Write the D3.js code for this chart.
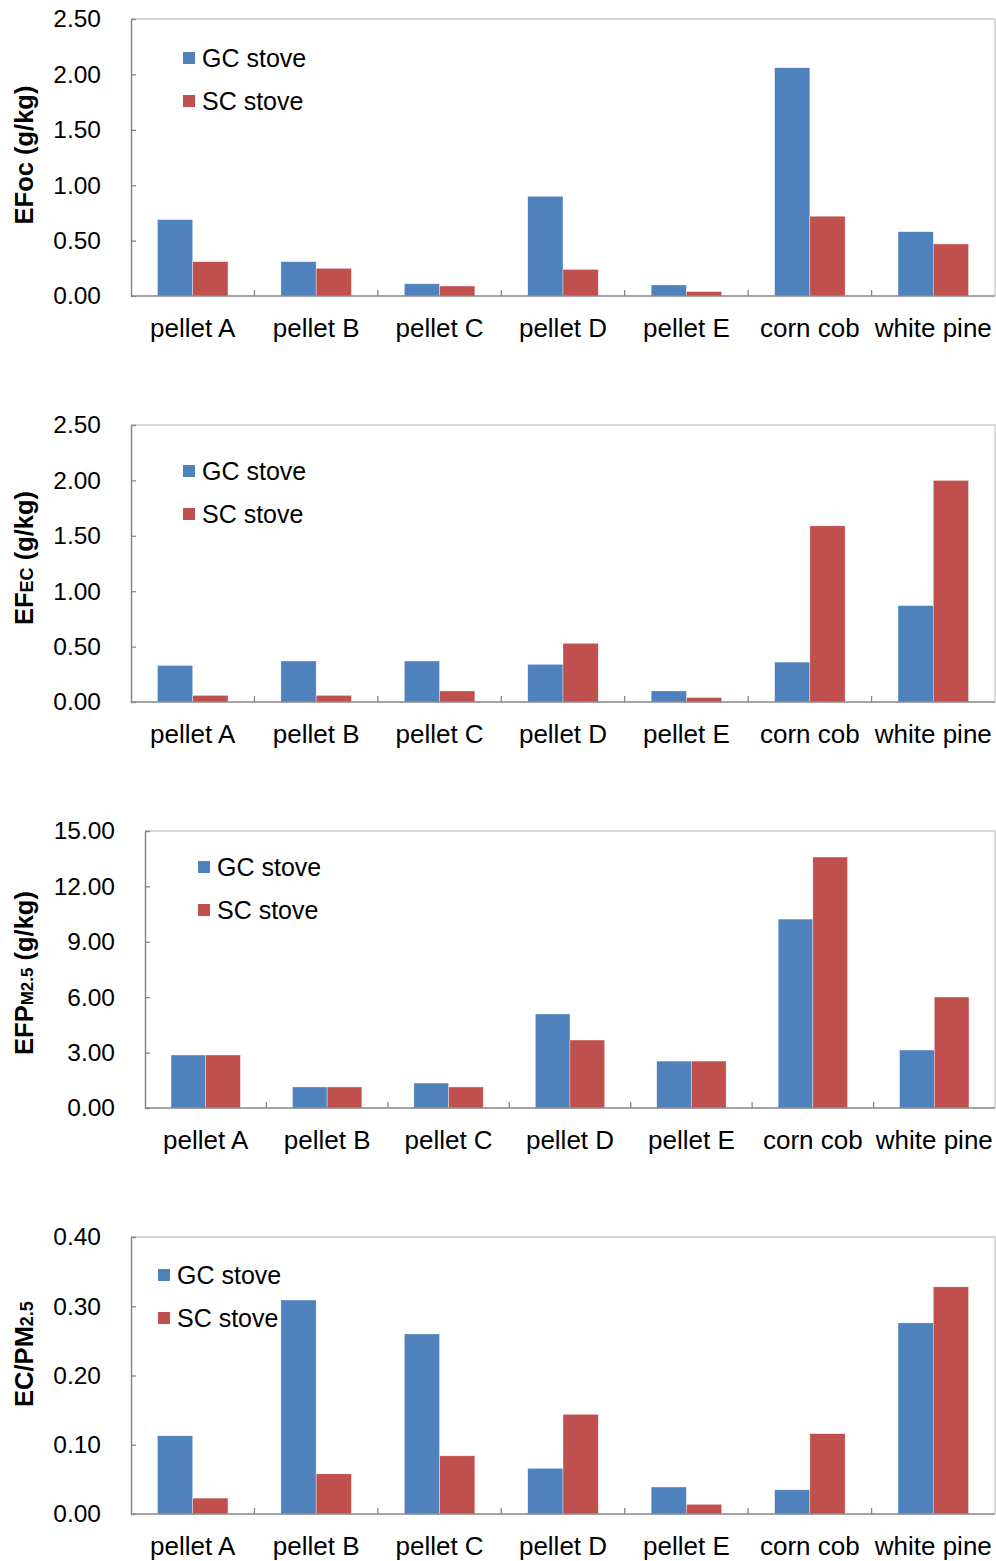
<!DOCTYPE html>
<html>
<head>
<meta charset="utf-8">
<script src="https://cdn.jsdelivr.net/npm/d3@7"></script>
<style>
  body { margin: 0; background: #fff; }
  svg text { font-family: "Liberation Sans", Arial, sans-serif; fill: #000; }
</style>
</head>
<body>
<div id="chart"></div>
<script>
// categories and values
const categories = ['pellet A', 'pellet B', 'pellet C', 'pellet D', 'pellet E', 'corn cob', 'white pine'];
const seriesNames = ['GC stove', 'SC stove'];

const ocGC = [0.69, 0.31, 0.11, 0.90, 0.10, 2.06, 0.58];
const ocSC = [0.31, 0.25, 0.09, 0.24, 0.04, 0.72, 0.47];

const ecGC = [0.33, 0.37, 0.37, 0.34, 0.10, 0.36, 0.87];
const ecSC = [0.06, 0.06, 0.10, 0.53, 0.04, 1.59, 2.00];

const pmGC = [2.87, 1.14, 1.35, 5.09, 2.54, 10.23, 3.14];
const pmSC = [2.87, 1.14, 1.14, 3.68, 2.54, 13.59, 6.01];

const ratioGC = [0.113, 0.309, 0.260, 0.066, 0.039, 0.035, 0.276];
const ratioSC = [0.023, 0.058, 0.084, 0.144, 0.014, 0.116, 0.328];

const ticksEF = [0, 0.5, 1, 1.5, 2, 2.5];
const ticksPM = [0, 3, 6, 9, 12, 15];
const ticksRatio = [0, 0.1, 0.2, 0.3, 0.4];

const colors = ['#4f81bd', '#c0504d'];

// panel layout
const panels = [
  { gc: ocGC, sc: ocSC, ticks: ticksEF, max: 2.5, left: 131, top: 19, bottom: 296, legX: 52, legY: 58, titleY: 155,
    title: [['EFoc (g/kg)', 25.5]] },
  { gc: ecGC, sc: ecSC, ticks: ticksEF, max: 2.5, left: 131, top: 425, bottom: 702, legX: 52, legY: 471, titleY: 558,
    title: [['EF', 25.5], ['EC', 18], [' (g/kg)', 25.5]] },
  { gc: pmGC, sc: pmSC, ticks: ticksPM, max: 15, left: 145, top: 831, bottom: 1108, legX: 53, legY: 867, titleY: 973,
    title: [['EFP', 25.5], ['M2.5', 17], [' (g/kg)', 25.5]] },
  { gc: ratioGC, sc: ratioSC, ticks: ticksRatio, max: 0.4, left: 131, top: 1237, bottom: 1514, legX: 27, legY: 1275, titleY: 1354,
    title: [['EC/PM', 25.5], ['2.5', 18]] }
];

const width = 996, height = 1561, right = 995;
const axisColor = '#868686';
const borderColor = '#c8c8c8';

const svg = d3.select('#chart').append('svg')
  .attr('width', width)
  .attr('height', height);

panels.forEach(p => {
  const g = svg.append('g');

  const x = d3.scaleBand().domain(categories).range([p.left, right]);
  const groupW = x.bandwidth() * 2 / 3.5;
  const xs = d3.scaleBand().domain(seriesNames).range([0, groupW]);
  const y = d3.scaleLinear().domain([0, p.max]).range([p.bottom, p.top]);

  // light frame top/right
  g.append('path')
    .attr('d', `M${p.left},${y(p.max)}H${right}V${y(0)}`)
    .attr('fill', 'none')
    .attr('stroke', borderColor)
    .attr('stroke-width', 1.3);

  // bars
  const rows = categories.map((c, i) => ({ cat: c, vals: [p.gc[i], p.sc[i]] }));
  const grp = g.append('g').selectAll('g')
    .data(rows)
    .enter().append('g')
    .attr('transform', d => `translate(${x(d.cat) + (x.bandwidth() - groupW) / 2},0)`);
  grp.selectAll('rect')
    .data(d => d.vals.map((v, k) => ({ name: seriesNames[k], v, k })))
    .enter().append('rect')
    .attr('x', d => xs(d.name))
    .attr('width', xs.bandwidth())
    .attr('y', d => y(d.v))
    .attr('height', d => y(0) - y(d.v))
    .attr('fill', d => colors[d.k])
    .attr('stroke', 'rgba(255,255,255,0.6)')
    .attr('stroke-width', 0.6);

  // y axis
  const yAxis = d3.axisLeft(y)
    .tickValues(p.ticks)
    .tickFormat(d3.format('.2f'))
    .tickSizeInner(-5)
    .tickSizeOuter(0)
    .tickPadding(30);
  const ya = g.append('g')
    .attr('transform', `translate(${p.left},0)`)
    .call(yAxis);
  ya.select('.domain').attr('stroke', axisColor).attr('stroke-width', 1.5);
  ya.selectAll('.tick line').attr('stroke', axisColor).attr('stroke-width', 1.3);
  ya.selectAll('.tick text')
    .attr('font-size', 24.5)
    .attr('font-family', '"Liberation Sans", Arial, sans-serif')
    .attr('fill', '#000');

  // x axis
  g.append('line')
    .attr('x1', p.left).attr('x2', right)
    .attr('y1', y(0)).attr('y2', y(0))
    .attr('stroke', axisColor).attr('stroke-width', 1.5);
  g.append('g').selectAll('line')
    .data(categories.slice(1))
    .enter().append('line')
    .attr('x1', d => x(d)).attr('x2', d => x(d))
    .attr('y1', y(0)).attr('y2', y(0) - 6)
    .attr('stroke', axisColor).attr('stroke-width', 1.3);
  g.append('g').selectAll('text')
    .data(categories)
    .enter().append('text')
    .attr('x', d => x(d) + x.bandwidth() / 2)
    .attr('y', y(0) + 41)
    .attr('text-anchor', 'middle')
    .attr('font-size', 26)
    .text(d => d);

  // legend
  const leg = g.append('g')
    .attr('transform', `translate(${p.left + p.legX},${p.legY})`);
  seriesNames.forEach((s, k) => {
    leg.append('rect')
      .attr('x', 0).attr('y', k * 43 - 6)
      .attr('width', 12).attr('height', 12)
      .attr('fill', colors[k]);
    leg.append('text')
      .attr('x', 19).attr('y', k * 43 + 9)
      .attr('font-size', 25)
      .text(s);
  });

  // y title
  const t = g.append('text')
    .attr('transform', `translate(33,${p.titleY}) rotate(-90)`)
    .attr('text-anchor', 'middle')
    .attr('font-weight', 'bold');
  p.title.forEach(([s, fs]) => {
    t.append('tspan').attr('font-size', fs).text(s);
  });
});
</script>
</body>
</html>
